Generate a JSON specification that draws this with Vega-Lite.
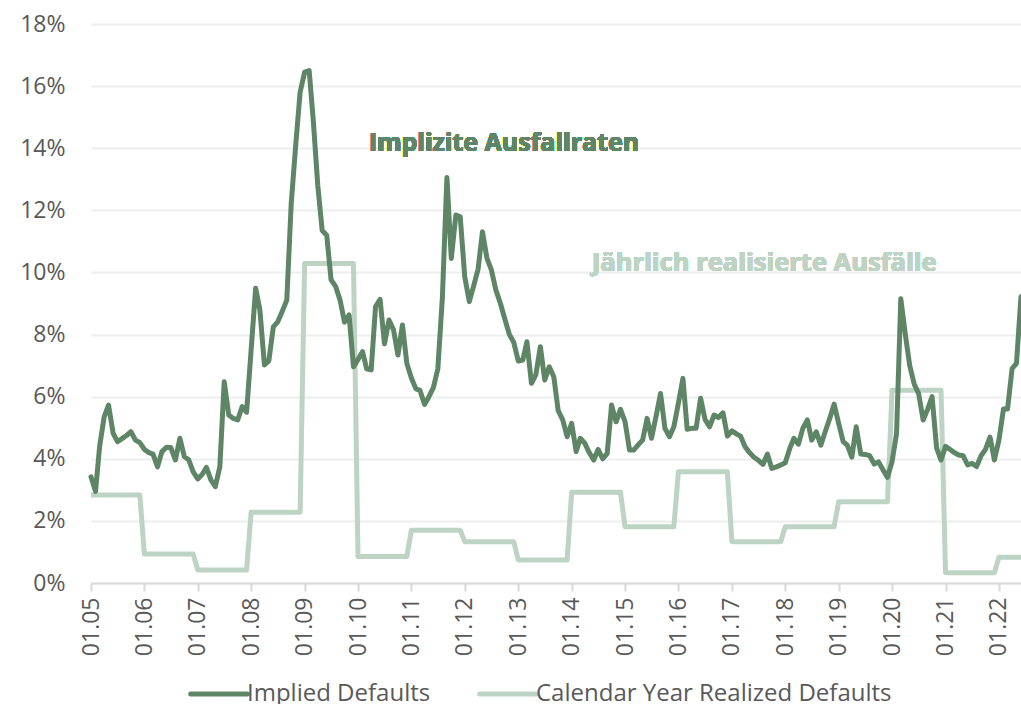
{
"$schema": "https://vega.github.io/schema/vega-lite/v6.json",
"width": 930, "height": 559,
"autosize": {"type": "none"},
"padding": {"left": 91, "top": 24, "right": 0, "bottom": 121},
"background": "white",
"config": {"view": {"stroke": null}, "font": "Open Sans"},
"data": {"values": [
{"date":"2005-01-01","implied":3.42,"realized":2.83},{"date":"2005-02-01","implied":2.95,"realized":2.83},{"date":"2005-03-01","implied":4.4,"realized":2.83},{"date":"2005-04-01","implied":5.35,"realized":2.83},{"date":"2005-05-01","implied":5.73,"realized":2.83},{"date":"2005-06-01","implied":4.83,"realized":2.83},{"date":"2005-07-01","implied":4.55,"realized":2.83},{"date":"2005-08-01","implied":4.65,"realized":2.83},{"date":"2005-09-01","implied":4.75,"realized":2.83},{"date":"2005-10-01","implied":4.87,"realized":2.83},{"date":"2005-11-01","implied":4.6,"realized":2.83},{"date":"2005-12-01","implied":4.52,"realized":2.83},
{"date":"2006-01-01","implied":4.3,"realized":0.93},{"date":"2006-02-01","implied":4.2,"realized":0.93},{"date":"2006-03-01","implied":4.15,"realized":0.93},{"date":"2006-04-01","implied":3.74,"realized":0.93},{"date":"2006-05-01","implied":4.23,"realized":0.93},{"date":"2006-06-01","implied":4.37,"realized":0.93},{"date":"2006-07-01","implied":4.36,"realized":0.93},{"date":"2006-08-01","implied":3.96,"realized":0.93},{"date":"2006-09-01","implied":4.66,"realized":0.93},{"date":"2006-10-01","implied":4.07,"realized":0.93},{"date":"2006-11-01","implied":3.96,"realized":0.93},{"date":"2006-12-01","implied":3.58,"realized":0.93},
{"date":"2007-01-01","implied":3.35,"realized":0.42},{"date":"2007-02-01","implied":3.5,"realized":0.42},{"date":"2007-03-01","implied":3.72,"realized":0.42},{"date":"2007-04-01","implied":3.32,"realized":0.42},{"date":"2007-05-01","implied":3.1,"realized":0.42},{"date":"2007-06-01","implied":3.74,"realized":0.42},{"date":"2007-07-01","implied":6.48,"realized":0.42},{"date":"2007-08-01","implied":5.41,"realized":0.42},{"date":"2007-09-01","implied":5.3,"realized":0.42},{"date":"2007-10-01","implied":5.25,"realized":0.42},{"date":"2007-11-01","implied":5.68,"realized":0.42},{"date":"2007-12-01","implied":5.5,"realized":0.42},
{"date":"2008-01-01","implied":7.5,"realized":2.28},{"date":"2008-02-01","implied":9.49,"realized":2.28},{"date":"2008-03-01","implied":8.79,"realized":2.28},{"date":"2008-04-01","implied":7.02,"realized":2.28},{"date":"2008-05-01","implied":7.15,"realized":2.28},{"date":"2008-06-01","implied":8.25,"realized":2.28},{"date":"2008-07-01","implied":8.41,"realized":2.28},{"date":"2008-08-01","implied":8.75,"realized":2.28},{"date":"2008-09-01","implied":9.11,"realized":2.28},{"date":"2008-10-01","implied":12.2,"realized":2.28},{"date":"2008-11-01","implied":14.1,"realized":2.28},{"date":"2008-12-01","implied":15.8,"realized":2.28},
{"date":"2009-01-01","implied":16.45,"realized":10.29},{"date":"2009-02-01","implied":16.5,"realized":10.29},{"date":"2009-03-01","implied":14.9,"realized":10.29},{"date":"2009-04-01","implied":12.8,"realized":10.29},{"date":"2009-05-01","implied":11.35,"realized":10.29},{"date":"2009-06-01","implied":11.2,"realized":10.29},{"date":"2009-07-01","implied":9.76,"realized":10.29},{"date":"2009-08-01","implied":9.55,"realized":10.29},{"date":"2009-09-01","implied":9.1,"realized":10.29},{"date":"2009-10-01","implied":8.4,"realized":10.29},{"date":"2009-11-01","implied":8.63,"realized":10.29},{"date":"2009-12-01","implied":6.96,"realized":10.29},
{"date":"2010-01-01","implied":7.2,"realized":0.85},{"date":"2010-02-01","implied":7.45,"realized":0.85},{"date":"2010-03-01","implied":6.9,"realized":0.85},{"date":"2010-04-01","implied":6.86,"realized":0.85},{"date":"2010-05-01","implied":8.9,"realized":0.85},{"date":"2010-06-01","implied":9.13,"realized":0.85},{"date":"2010-07-01","implied":7.7,"realized":0.85},{"date":"2010-08-01","implied":8.47,"realized":0.85},{"date":"2010-09-01","implied":8.15,"realized":0.85},{"date":"2010-10-01","implied":7.34,"realized":0.85},{"date":"2010-11-01","implied":8.31,"realized":0.85},{"date":"2010-12-01","implied":7.07,"realized":0.85},
{"date":"2011-01-01","implied":6.6,"realized":1.7},{"date":"2011-02-01","implied":6.25,"realized":1.7},{"date":"2011-03-01","implied":6.2,"realized":1.7},{"date":"2011-04-01","implied":5.75,"realized":1.7},{"date":"2011-05-01","implied":6.0,"realized":1.7},{"date":"2011-06-01","implied":6.3,"realized":1.7},{"date":"2011-07-01","implied":6.9,"realized":1.7},{"date":"2011-08-01","implied":9.2,"realized":1.7},{"date":"2011-09-01","implied":13.06,"realized":1.7},{"date":"2011-10-01","implied":10.45,"realized":1.7},{"date":"2011-11-01","implied":11.85,"realized":1.7},{"date":"2011-12-01","implied":11.79,"realized":1.7},
{"date":"2012-01-01","implied":9.86,"realized":1.33},{"date":"2012-02-01","implied":9.06,"realized":1.33},{"date":"2012-03-01","implied":9.55,"realized":1.33},{"date":"2012-04-01","implied":10.1,"realized":1.33},{"date":"2012-05-01","implied":11.31,"realized":1.33},{"date":"2012-06-01","implied":10.45,"realized":1.33},{"date":"2012-07-01","implied":10.08,"realized":1.33},{"date":"2012-08-01","implied":9.43,"realized":1.33},{"date":"2012-09-01","implied":9.0,"realized":1.33},{"date":"2012-10-01","implied":8.5,"realized":1.33},{"date":"2012-11-01","implied":8.0,"realized":1.33},{"date":"2012-12-01","implied":7.75,"realized":1.33},
{"date":"2013-01-01","implied":7.15,"realized":0.74},{"date":"2013-02-01","implied":7.18,"realized":0.74},{"date":"2013-03-01","implied":7.77,"realized":0.74},{"date":"2013-04-01","implied":6.43,"realized":0.74},{"date":"2013-05-01","implied":6.7,"realized":0.74},{"date":"2013-06-01","implied":7.61,"realized":0.74},{"date":"2013-07-01","implied":6.54,"realized":0.74},{"date":"2013-08-01","implied":6.96,"realized":0.74},{"date":"2013-09-01","implied":6.64,"realized":0.74},{"date":"2013-10-01","implied":5.55,"realized":0.74},{"date":"2013-11-01","implied":5.25,"realized":0.74},{"date":"2013-12-01","implied":4.71,"realized":0.74},
{"date":"2014-01-01","implied":5.14,"realized":2.92},{"date":"2014-02-01","implied":4.23,"realized":2.92},{"date":"2014-03-01","implied":4.66,"realized":2.92},{"date":"2014-04-01","implied":4.5,"realized":2.92},{"date":"2014-05-01","implied":4.2,"realized":2.92},{"date":"2014-06-01","implied":3.96,"realized":2.92},{"date":"2014-07-01","implied":4.3,"realized":2.92},{"date":"2014-08-01","implied":4.0,"realized":2.92},{"date":"2014-09-01","implied":4.17,"realized":2.92},{"date":"2014-10-01","implied":5.73,"realized":2.92},{"date":"2014-11-01","implied":5.19,"realized":2.92},{"date":"2014-12-01","implied":5.59,"realized":2.92},
{"date":"2015-01-01","implied":5.2,"realized":1.81},{"date":"2015-02-01","implied":4.28,"realized":1.81},{"date":"2015-03-01","implied":4.28,"realized":1.81},{"date":"2015-04-01","implied":4.45,"realized":1.81},{"date":"2015-05-01","implied":4.6,"realized":1.81},{"date":"2015-06-01","implied":5.3,"realized":1.81},{"date":"2015-07-01","implied":4.66,"realized":1.81},{"date":"2015-08-01","implied":5.36,"realized":1.81},{"date":"2015-09-01","implied":6.1,"realized":1.81},{"date":"2015-10-01","implied":4.98,"realized":1.81},{"date":"2015-11-01","implied":4.71,"realized":1.81},{"date":"2015-12-01","implied":5.03,"realized":1.81},
{"date":"2016-01-01","implied":5.79,"realized":3.58},{"date":"2016-02-01","implied":6.59,"realized":3.58},{"date":"2016-03-01","implied":4.95,"realized":3.58},{"date":"2016-04-01","implied":4.98,"realized":3.58},{"date":"2016-05-01","implied":4.98,"realized":3.58},{"date":"2016-06-01","implied":5.95,"realized":3.58},{"date":"2016-07-01","implied":5.27,"realized":3.58},{"date":"2016-08-01","implied":5.03,"realized":3.58},{"date":"2016-09-01","implied":5.41,"realized":3.58},{"date":"2016-10-01","implied":5.33,"realized":3.58},{"date":"2016-11-01","implied":5.48,"realized":3.58},{"date":"2016-12-01","implied":4.73,"realized":3.58},
{"date":"2017-01-01","implied":4.9,"realized":1.33},{"date":"2017-02-01","implied":4.8,"realized":1.33},{"date":"2017-03-01","implied":4.73,"realized":1.33},{"date":"2017-04-01","implied":4.39,"realized":1.33},{"date":"2017-05-01","implied":4.2,"realized":1.33},{"date":"2017-06-01","implied":4.05,"realized":1.33},{"date":"2017-07-01","implied":3.95,"realized":1.33},{"date":"2017-08-01","implied":3.82,"realized":1.33},{"date":"2017-09-01","implied":4.15,"realized":1.33},{"date":"2017-10-01","implied":3.69,"realized":1.33},{"date":"2017-11-01","implied":3.74,"realized":1.33},{"date":"2017-12-01","implied":3.8,"realized":1.33},
{"date":"2018-01-01","implied":3.87,"realized":1.81},{"date":"2018-02-01","implied":4.34,"realized":1.81},{"date":"2018-03-01","implied":4.66,"realized":1.81},{"date":"2018-04-01","implied":4.47,"realized":1.81},{"date":"2018-05-01","implied":4.98,"realized":1.81},{"date":"2018-06-01","implied":5.25,"realized":1.81},{"date":"2018-07-01","implied":4.6,"realized":1.81},{"date":"2018-08-01","implied":4.87,"realized":1.81},{"date":"2018-09-01","implied":4.44,"realized":1.81},{"date":"2018-10-01","implied":4.87,"realized":1.81},{"date":"2018-11-01","implied":5.3,"realized":1.81},{"date":"2018-12-01","implied":5.76,"realized":1.81},
{"date":"2019-01-01","implied":5.14,"realized":2.62},{"date":"2019-02-01","implied":4.55,"realized":2.62},{"date":"2019-03-01","implied":4.44,"realized":2.62},{"date":"2019-04-01","implied":4.05,"realized":2.62},{"date":"2019-05-01","implied":5.03,"realized":2.62},{"date":"2019-06-01","implied":4.15,"realized":2.62},{"date":"2019-07-01","implied":4.14,"realized":2.62},{"date":"2019-08-01","implied":4.1,"realized":2.62},{"date":"2019-09-01","implied":3.83,"realized":2.62},{"date":"2019-10-01","implied":3.9,"realized":2.62},{"date":"2019-11-01","implied":3.64,"realized":2.62},{"date":"2019-12-01","implied":3.4,"realized":2.62},
{"date":"2020-01-01","implied":3.9,"realized":6.21},{"date":"2020-02-01","implied":4.82,"realized":6.21},{"date":"2020-03-01","implied":9.15,"realized":6.21},{"date":"2020-04-01","implied":8.0,"realized":6.21},{"date":"2020-05-01","implied":7.0,"realized":6.21},{"date":"2020-06-01","implied":6.4,"realized":6.21},{"date":"2020-07-01","implied":6.1,"realized":6.21},{"date":"2020-08-01","implied":5.25,"realized":6.21},{"date":"2020-09-01","implied":5.6,"realized":6.21},{"date":"2020-10-01","implied":6.0,"realized":6.21},{"date":"2020-11-01","implied":4.34,"realized":6.21},{"date":"2020-12-01","implied":3.96,"realized":6.21},
{"date":"2021-01-01","implied":4.4,"realized":0.33},{"date":"2021-02-01","implied":4.3,"realized":0.33},{"date":"2021-03-01","implied":4.2,"realized":0.33},{"date":"2021-04-01","implied":4.12,"realized":0.33},{"date":"2021-05-01","implied":4.1,"realized":0.33},{"date":"2021-06-01","implied":3.8,"realized":0.33},{"date":"2021-07-01","implied":3.85,"realized":0.33},{"date":"2021-08-01","implied":3.75,"realized":0.33},{"date":"2021-09-01","implied":4.1,"realized":0.33},{"date":"2021-10-01","implied":4.3,"realized":0.33},{"date":"2021-11-01","implied":4.7,"realized":0.33},{"date":"2021-12-01","implied":3.96,"realized":0.33},
{"date":"2022-01-01","implied":4.6,"realized":0.83},{"date":"2022-02-01","implied":5.6,"realized":0.83},{"date":"2022-03-01","implied":5.6,"realized":0.83},{"date":"2022-04-01","implied":6.9,"realized":0.83},{"date":"2022-05-01","implied":7.07,"realized":0.83},{"date":"2022-06-01","implied":9.22,"realized":0.83}
]},
"layer": [
{"mark": {"type": "line", "strokeWidth": 5, "strokeJoin": "round", "strokeCap": "butt"},
 "encoding": {
  "x": {"field": "date", "type": "temporal",
   "scale": {"type": "utc", "domain": [{"year": 2005, "month": 1, "date": 1, "utc": true}, {"year": 2022, "month": 6, "date": 1, "utc": true}]},
   "axis": {"title": null, "format": "%m.%y", "tickCount": {"interval": "year", "step": 1}, "labelAngle": -90, "labelFontSize": 23, "labelColor": "#595959", "labelFont": "Open Sans", "domainColor": "#d9d9d9", "domainWidth": 2, "tickColor": "#d9d9d9", "tickWidth": 2, "tickSize": 8, "labelPadding": 6, "grid": false, "labelFlush": false, "labelOverlap": false}},
  "y": {"field": "realized", "type": "quantitative",
   "scale": {"domain": [0, 18], "nice": false},
   "axis": {"title": null, "values": [0, 2, 4, 6, 8, 10, 12, 14, 16, 18], "labelExpr": "datum.value + '%'", "labelFontSize": 23, "labelColor": "#595959", "labelFont": "Open Sans", "domain": false, "ticks": false, "labelPadding": 26, "gridColor": "#eeeeee", "gridWidth": 2}},
  "color": {"datum": "Calendar Year Realized Defaults",
   "scale": {"domain": ["Implied Defaults", "Calendar Year Realized Defaults"], "range": ["#5e8565", "#bdd3c4"]},
   "legend": {"title": null, "orient": "none", "legendX": 97, "legendY": 639, "direction": "horizontal", "symbolType": "stroke", "symbolSize": 3200, "symbolStrokeWidth": 5, "labelFontSize": 24, "labelColor": "#595959", "labelFont": "Open Sans", "columnPadding": 38, "labelOffset": -3, "labelLimit": 500,
     "encode": {"symbols": {"update": {"strokeCap": {"value": "round"}}}}}}
 }},
{"mark": {"type": "line", "strokeWidth": 5, "strokeJoin": "round", "strokeCap": "round"},
 "encoding": {
  "x": {"field": "date", "type": "temporal"},
  "y": {"field": "implied", "type": "quantitative"},
  "color": {"datum": "Implied Defaults"}
 }},
{"mark": {"type": "text", "font": "Open Sans", "fontWeight": "bold", "fontSize": 25, "fill": "#5e8565", "align": "center", "baseline": "middle"},
 "encoding": {
  "x": {"datum": {"year": 2012, "month": 9, "date": 25, "utc": true}, "type": "temporal"},
  "y": {"datum": 14.17, "type": "quantitative"},
  "text": {"value": "Implizite Ausfallraten"}
 }},
{"mark": {"type": "text", "font": "Open Sans", "fontWeight": "bold", "fontSize": 25.5, "fill": "#bdd3c4", "align": "center", "baseline": "middle"},
 "encoding": {
  "x": {"datum": {"year": 2017, "month": 8, "date": 10, "utc": true}, "type": "temporal"},
  "y": {"datum": 10.3, "type": "quantitative"},
  "text": {"value": "Jährlich realisierte Ausfälle"}
 }}
]
}
